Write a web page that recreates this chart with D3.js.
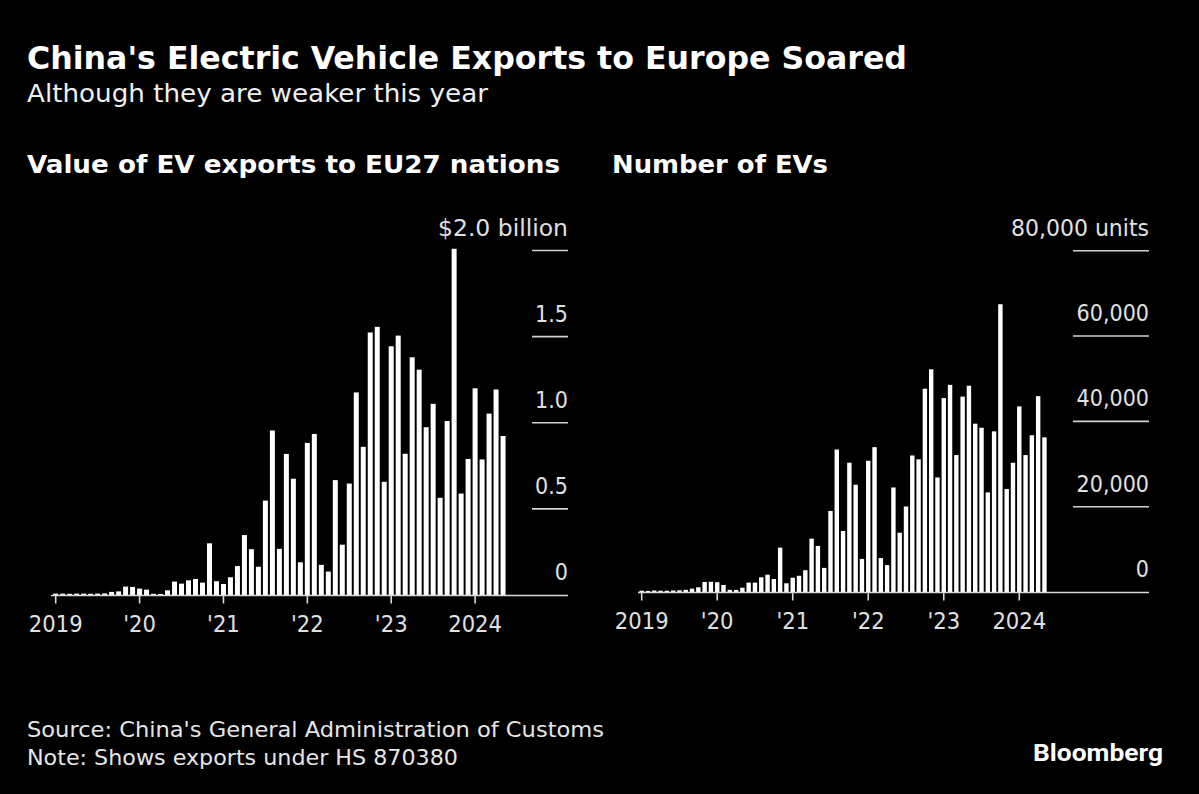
<!DOCTYPE html>
<html><head><meta charset="utf-8">
<script src="https://cdn.jsdelivr.net/npm/d3@7"></script>
<style>
html,body{margin:0;padding:0;background:#000;}
svg{display:block;}
text{font-family:"DejaVu Sans Condensed","DejaVu Sans",sans-serif;font-stretch:condensed;}
</style></head>
<body>
<svg id="chart" width="1199" height="794"></svg>
<script>
// ---- data (monthly, Jan 2019 – May 2024) ----
const startYear = 2019, startMonth = 0, monthCount = 65;
const months = d3.range(monthCount).map(i => new Date(startYear, startMonth + i, 1));

// Value of EV exports to EU27 nations, $ billion
const valueBillion = [
  0.008,0.008,0.007,0.008,0.008,0.007,0.008,0.009,0.018,0.021,0.049,0.047,
  0.037,0.031,0.007,0.006,0.027,0.078,0.066,0.085,0.093,0.072,0.300,0.080,
  0.064,0.103,0.168,0.348,0.266,0.164,0.548,0.955,0.268,0.819,0.675,0.190,
  0.883,0.935,0.175,0.136,0.667,0.292,0.647,1.176,0.860,1.524,1.557,0.657,
  1.444,1.506,0.820,1.380,1.308,0.974,1.110,0.564,1.010,2.010,0.589,0.790,
  1.200,0.787,1.053,1.193,0.923
];

// Number of EVs, units
const unitsCount = [
  300,250,350,300,300,350,400,500,780,1100,2350,2400,
  2300,1650,500,500,1000,2200,2200,3450,4050,3050,10400,2050,
  3350,3800,5100,12500,10800,5650,19000,33400,14300,30300,25150,7750,
  30750,33950,7950,6300,24500,13900,20050,32000,31100,47650,52200,26850,
  45450,48550,32100,45800,48350,39450,38500,23350,37650,67450,24150,30300,
  43500,32100,36750,45900,36250
];

const yearTickLabels = ["2019","'20","'21","'22","'23","2024"];
const valueTicks = [0, 0.5, 1.0, 1.5, 2.0];
const valueTickLabels = ["0","0.5","1.0","1.5","$2.0 billion"];
const unitTicks = [0, 20000, 40000, 60000, 80000];
const unitTickLabels = ["0","20,000","40,000","60,000","80,000 units"];

const titleText = "China's Electric Vehicle Exports to Europe Soared";
const subtitleText = "Although they are weaker this year";
const panelTitles = ["Value of EV exports to EU27 nations", "Number of EVs"];
const sourceText = "Source: China's General Administration of Customs";
const noteText = "Note: Shows exports under HS 870380";

// ---- drawing ----
const svg = d3.select("#chart");
svg.append("rect").attr("width",1199).attr("height",794).attr("fill","#000");

function fitText(sel, w){
  const n = sel.node();
  const cur = n.getComputedTextLength();
  if (Math.abs(cur - w) > 1) sel.attr("textLength", w).attr("lengthAdjust","spacingAndGlyphs");
  return sel;
}

fitText(svg.append("text").attr("x",27).attr("y",69).attr("fill","#fff")
  .attr("font-size",32).attr("font-weight","bold").text(titleText), 880);
fitText(svg.append("text").attr("x",27).attr("y",102).attr("fill","#f0f0f0")
  .attr("font-size",25).text(subtitleText), 461);
fitText(svg.append("text").attr("x",27).attr("y",173).attr("fill","#fff")
  .attr("font-size",25).attr("font-weight","bold").text(panelTitles[0]), 533);
fitText(svg.append("text").attr("x",612).attr("y",173).attr("fill","#fff")
  .attr("font-size",25).attr("font-weight","bold").text(panelTitles[1]), 216);

fitText(svg.append("text").attr("x",27).attr("y",737).attr("fill","#e6e6e6")
  .attr("font-size",22).text(sourceText), 577);
fitText(svg.append("text").attr("x",27).attr("y",765).attr("fill","#e6e6e6")
  .attr("font-size",22).text(noteText), 431);
const bb = svg.append("text").attr("x",1163).attr("y",761).attr("fill","#fff")
  .attr("text-anchor","end").attr("font-size",23).attr("font-weight","bold")
  .style("font-family","Roboto, 'Liberation Sans', sans-serif").style("font-stretch","normal")
  .text("Bloomberg");
fitText(bb, 130);

function panel(cfg){
  const g = svg.append("g");
  const x = d3.scaleBand().domain(months.map((d,i)=>i))
    .range([cfg.x0, cfg.x0 + cfg.step*monthCount]).paddingInner(cfg.padIn).paddingOuter(cfg.padIn/2);
  const y = d3.scaleLinear().domain([0, cfg.ticks[cfg.ticks.length-1]]).range([cfg.yBase, cfg.yTop]);

  // gridlines (short, at right)
  g.selectAll("line.grid").data(cfg.ticks.filter(t=>t>0)).join("line")
    .attr("x1",cfg.gridX1).attr("x2",cfg.gridX2)
    .attr("y1",d=>y(d)).attr("y2",d=>y(d))
    .attr("stroke","#d0d0d0").attr("stroke-width",1.6);
  // y labels
  const yl = g.selectAll("text.yl").data(cfg.ticks).join("text")
    .attr("x",cfg.gridX2).attr("y",d=>y(d)-15)
    .attr("text-anchor","end").attr("fill","#e0e0e0").attr("font-size",23)
    .text((d,i)=>cfg.tickLabels[i]);
  fitText(yl.filter((d,i)=>i===cfg.ticks.length-1), cfg.topLabelW);

  // bars
  g.selectAll("rect.bar").data(cfg.values).join("rect")
    .attr("x",(d,i)=>x(i)).attr("width",x.bandwidth())
    .attr("y",d=>y(d)).attr("height",d=>Math.max(0.8, y(0)-y(d)))
    .attr("fill","#fff");

  // baseline
  g.append("line").attr("x1",cfg.axisX1).attr("x2",cfg.gridX2)
    .attr("y1",cfg.yBase+0.5).attr("y2",cfg.yBase+0.5)
    .attr("stroke","#d8d8d8").attr("stroke-width",1.6);

  // x axis ticks (January of each year)
  const janIdx = months.map((d,i)=>i).filter(i=>months[i].getMonth()===0);
  const axis = d3.axisBottom(x).tickValues(janIdx).tickSize(8).tickPadding(6)
    .tickFormat((d,k)=>yearTickLabels[janIdx.indexOf(d)]);
  const ag = g.append("g").attr("transform",`translate(0,${cfg.yBase+0.5})`).call(axis);
  ag.select(".domain").remove();
  ag.selectAll(".tick line").attr("stroke","#d8d8d8").attr("stroke-width",1.6);
  ag.selectAll(".tick text").attr("fill","#e0e0e0").attr("font-size",23.5)
    .attr("font-family",null).attr("dy","0.95em");
  ag.attr("font-family",null);
}

panel({values:valueBillion, ticks:valueTicks, tickLabels:valueTickLabels,
  x0:55.7-3.5, step:6.99, padIn:0.285, yBase:595, yTop:250.5,
  gridX1:532, gridX2:568, axisX1:51, topLabelW:130});
panel({values:unitsCount, ticks:unitTicks, tickLabels:unitTickLabels,
  x0:641.7-3.15, step:6.293, padIn:0.3, yBase:592, yTop:250.7,
  gridX1:1073, gridX2:1149, axisX1:638, topLabelW:138});
</script>
</body></html>
